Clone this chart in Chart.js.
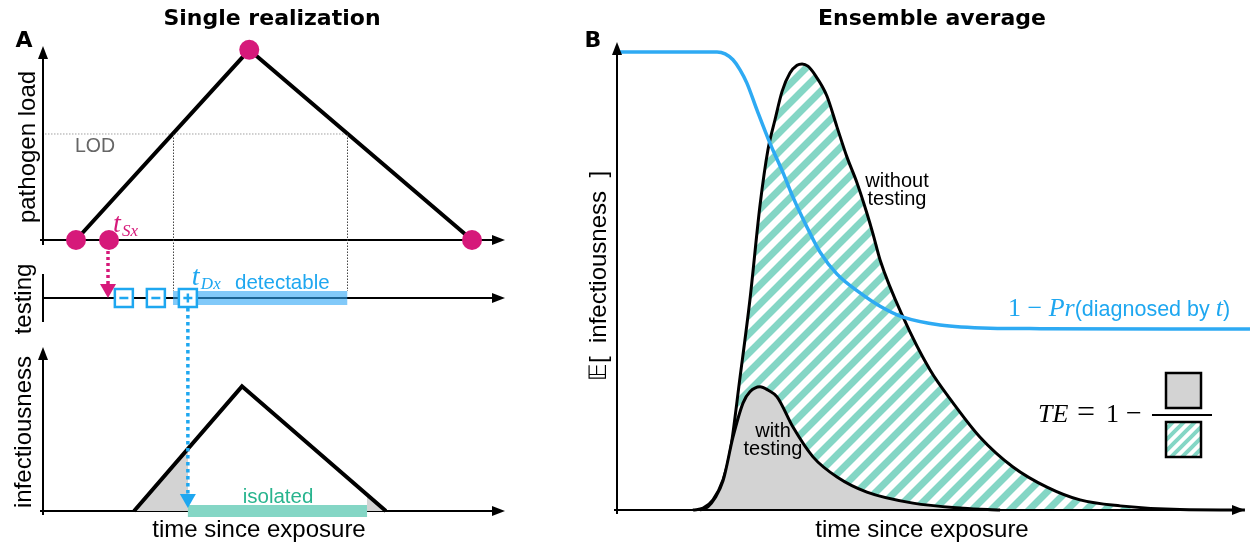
<!DOCTYPE html>
<html><head><meta charset="utf-8">
<script src="https://cdn.jsdelivr.net/npm/chart.js@4.4.0/dist/chart.umd.min.js"></script>
<style>
html,body{margin:0;padding:0;background:#fff;}
#wrap{position:relative;width:1250px;height:546px;overflow:hidden;background:#fff;}
#wrap canvas{position:absolute;left:0;top:0;}
</style></head><body>
<div id="wrap">
<canvas id="cA1" width="1250" height="546"></canvas>
<canvas id="cA2" width="1250" height="546"></canvas>
<canvas id="cA3" width="1250" height="546"></canvas>
<canvas id="cB" width="1250" height="546"></canvas>
</div>
<script>
// ---------------- DATA ----------------
// Panel A: single realization (time in days since exposure)
const loadTimes = [1.0, 6.25, 13.0];
const loadValues = [0, 10, 0];
const lodLevel = 5.6;
const symptomOnset = 2.0;
const testTimes = [2.45, 3.42, 4.39];
const testResults = ['-', '-', '+'];
const detectableWindow = [3.94, 9.22];
const infectTimes = [2.76, 6.03, 10.39];
const infectValues = [0, 7.6, 0];
const isolationWindow = [4.39, 9.82];

// Panel B: ensemble average
const noTestTimes = [3.00,3.40,3.79,4.19,4.46,4.86,5.25,5.65,5.96,6.24,6.52,6.83,7.11,7.31,7.54,7.82,8.29,8.69,9.08,9.48,9.87,10.11,10.39,11.30,12.36,13.27,14.34,15.64,16.98,18.29,19.87,22.24,24.80];
const noTestValues = [0,0.004,0.022,0.066,0.124,0.290,0.459,0.666,0.786,0.852,0.914,0.954,0.971,0.974,0.969,0.950,0.904,0.836,0.771,0.714,0.648,0.603,0.546,0.421,0.306,0.234,0.159,0.094,0.050,0.022,0.009,0.001,0];
const testTimesB = [3.28,3.59,3.87,4.19,4.58,4.98,5.25,5.65,5.96,6.32,6.95,7.74,8.69,9.87,11.69,13.67,15.13];
const testValuesB = [0,0.007,0.026,0.064,0.159,0.234,0.258,0.269,0.262,0.247,0.181,0.116,0.072,0.039,0.015,0.004,0];
const undiagTimes = [0,2.49,3.95,4.27,4.58,4.86,5.13,5.53,6.04,6.56,6.95,7.50,8.02,8.69,9.60,10.39,11.30,12.76,14.73,16.71,25];
const undiagValues = [1,1,1,0.996,0.983,0.961,0.932,0.873,0.801,0.736,0.683,0.618,0.563,0.515,0.474,0.445,0.421,0.404,0.397,0.396,0.395];

// ---------------- STYLE ----------------
const PINK = '#d6197a';
const BLUE = '#1ea7f0';
const TEAL = '#84d6c5';
const GREY = '#d3d3d3';
const GREEN_TXT = '#28b48e';
const SANS = '"Liberation Sans", Arial, Helvetica, sans-serif';
const SERIF = '"Liberation Serif", "Times New Roman", serif';
const BOLD = '"DejaVu Sans", sans-serif';

const pts = (xs, ys) => xs.map((x, i) => ({x, y: ys[i]}));

function baseOptions(pad, xmin, xmax, ymin, ymax) {
  return {
    responsive: false, animation: false, devicePixelRatio: 1, events: [],
    layout: {padding: pad},
    plugins: {legend: {display: false}, tooltip: {enabled: false}},
    scales: {
      x: {type: 'linear', min: xmin, max: xmax, display: false},
      y: {type: 'linear', min: ymin, max: ymax, display: false}
    },
    elements: {point: {radius: 0}, line: {borderJoinStyle: 'miter'}}
  };
}

function seg(ctx, x1, y1, x2, y2) { ctx.beginPath(); ctx.moveTo(x1, y1); ctx.lineTo(x2, y2); ctx.stroke(); }
function head(ctx, x, y, dir, len, half, color) {
  ctx.save(); ctx.fillStyle = color; ctx.beginPath();
  if (dir === 'up') { ctx.moveTo(x, y); ctx.lineTo(x - half, y + len); ctx.lineTo(x + half, y + len); }
  else if (dir === 'right') { ctx.moveTo(x, y); ctx.lineTo(x - len, y - half); ctx.lineTo(x - len, y + half); }
  else { ctx.moveTo(x, y); ctx.lineTo(x - half, y - len); ctx.lineTo(x + half, y - len); }
  ctx.closePath(); ctx.fill(); ctx.restore();
}
function arrowLine(ctx, x1, y1, x2, y2, dir) {
  ctx.save(); ctx.strokeStyle = '#000'; ctx.lineWidth = 2; ctx.setLineDash([]);
  if (dir === 'up') seg(ctx, x1, y1, x2, y2 + 8); else seg(ctx, x1, y1, x2 - 8, y2);
  ctx.restore();
  head(ctx, x2, y2, dir, 13, 5, '#000');
}
function dottedArrow(ctx, x, y1, y2, color, dash, headLen, headHalf) {
  ctx.save(); ctx.strokeStyle = color; ctx.lineWidth = 3.5; ctx.setLineDash(dash);
  seg(ctx, x, y1, x, y2 - headLen + 1);
  ctx.restore();
  head(ctx, x, y2, 'down', headLen, headHalf, color);
}
function text(ctx, t, x, y, font, color, align) {
  ctx.save(); ctx.font = font; ctx.fillStyle = color; ctx.textAlign = align || 'left';
  ctx.textBaseline = 'alphabetic'; ctx.fillText(t, x, y); ctx.restore();
}
function rotText(ctx, t, x, y, font, color) {
  ctx.save(); ctx.translate(x, y); ctx.rotate(-Math.PI / 2);
  ctx.font = font; ctx.fillStyle = color; ctx.textAlign = 'center'; ctx.textBaseline = 'alphabetic';
  ctx.fillText(t, 0, 0); ctx.restore();
}
function runs(ctx, x, y, parts, color) {
  ctx.save(); ctx.fillStyle = color; ctx.textAlign = 'left'; ctx.textBaseline = 'alphabetic';
  let cx = x;
  for (const [t, f] of parts) { ctx.font = f; ctx.fillText(t, cx, y); cx += ctx.measureText(t).width; }
  ctx.restore(); return cx;
}

// ---------------- A1: pathogen load ----------------
const chartA1 = new Chart(document.getElementById('cA1'), {
  type: 'line',
  data: {datasets: [
    {data: [{x: symptomOnset, y: 0}], showLine: false, pointRadius: 10, pointBackgroundColor: PINK, pointBorderWidth: 0, clip: false},
    {data: pts(loadTimes, loadValues), borderColor: '#000', borderWidth: 4, pointRadius: 10,
     pointBackgroundColor: PINK, pointBorderWidth: 0, clip: false, tension: 0}
  ]},
  options: baseOptions({left: 43, right: 745, top: 46, bottom: 306}, 0, 14, 0, 10.2),
  plugins: [{
    id: 'a1',
    beforeDatasetsDraw(chart) {
      const ctx = chart.ctx, xs = chart.scales.x, ys = chart.scales.y, ca = chart.chartArea;
      const y0 = ys.getPixelForValue(0), x0 = xs.getPixelForValue(0);
      const yL = ys.getPixelForValue(lodLevel);
      ctx.save(); ctx.strokeStyle = '#a0a0a0'; ctx.lineWidth = 1; ctx.setLineDash([1.5, 1.5]);
      seg(ctx, x0 + 2, yL + 0.5, xs.getPixelForValue(detectableWindow[1]), yL + 0.5);
      ctx.restore();
      arrowLine(ctx, x0, y0 + 5, x0, ca.top, 'up');
      arrowLine(ctx, x0 - 3, y0, ca.right, y0, 'right');
    },
    afterDraw(chart) {
      const ctx = chart.ctx, xs = chart.scales.x;
      text(ctx, 'Single realization', 272, 25, `bold 22px ${BOLD}`, '#000', 'center');
      text(ctx, 'A', 24, 47, `bold 22px ${BOLD}`, '#000', 'center');
      rotText(ctx, 'pathogen load', 35, 147, `24px ${SANS}`, '#000');
      text(ctx, 'LOD', 75, 152, `19.5px ${SANS}`, '#666');
      const xs0 = xs.getPixelForValue(symptomOnset);
      runs(ctx, xs0 + 4, 232, [['t', `italic 28px ${SERIF}`]], PINK);
      runs(ctx, xs0 + 13, 236, [['Sx', `italic 17px ${SERIF}`]], PINK);
    }
  }]
});

// ---------------- A2: testing ----------------
const chartA2 = new Chart(document.getElementById('cA2'), {
  type: 'line',
  data: {datasets: [
    {data: testTimes.map(t => ({x: t, y: 0})), showLine: false, pointStyle: 'rect', pointRadius: 12.73,
     pointBackgroundColor: '#fff', pointBorderColor: BLUE, pointBorderWidth: 2.5, clip: false},
    {data: detectableWindow.map(t => ({x: t, y: 0})), borderColor: 'rgba(45,165,245,0.6)', borderWidth: 14,
     borderCapStyle: 'butt', pointRadius: 0, clip: false}
  ]},
  options: baseOptions({left: 43, right: 745, top: 274, bottom: 224}, 0, 14, -1, 1),
  plugins: [{
    id: 'a2',
    beforeDatasetsDraw(chart) {
      const ctx = chart.ctx, xs = chart.scales.x, ys = chart.scales.y, ca = chart.chartArea;
      const y0 = ys.getPixelForValue(0), x0 = xs.getPixelForValue(0);
      const yL = chartA1.scales.y.getPixelForValue(lodLevel);
      ctx.save(); ctx.strokeStyle = '#444'; ctx.lineWidth = 1; ctx.setLineDash([1.5, 1.5]);
      for (const t of detectableWindow) {
        const x = Math.round(xs.getPixelForValue(t)) + 0.5;
        seg(ctx, x, yL + 1, x, y0 - 7);
      }
      ctx.restore();
      ctx.save(); ctx.strokeStyle = '#000'; ctx.lineWidth = 2; seg(ctx, x0, ca.top, x0, ca.bottom); ctx.restore();
      arrowLine(ctx, x0, y0, ca.right, y0, 'right');
    },
    afterDraw(chart) {
      const ctx = chart.ctx, xs = chart.scales.x, ys = chart.scales.y;
      const y0 = ys.getPixelForValue(0);
      const xS = xs.getPixelForValue(symptomOnset) - 1;
      dottedArrow(ctx, xS, chartA1.scales.y.getPixelForValue(0) + 11, y0, PINK, [3, 3], 14, 8);
      const meta = chart.getDatasetMeta(0);
      ctx.save(); ctx.strokeStyle = BLUE; ctx.lineWidth = 2.5;
      meta.data.forEach((p, i) => {
        seg(ctx, p.x - 4.5, p.y, p.x + 4.5, p.y);
        if (testResults[i] === '+') seg(ctx, p.x, p.y - 4.5, p.x, p.y + 4.5);
      });
      ctx.restore();
      rotText(ctx, 'testing', 31, 299, `24px ${SANS}`, '#000');
      const xD = xs.getPixelForValue(testTimes[2]);
      runs(ctx, xD + 4, 285, [['t', `italic 28px ${SERIF}`]], BLUE);
      runs(ctx, xD + 13, 289, [['Dx', `italic 17px ${SERIF}`]], BLUE);
      text(ctx, 'detectable', 235, 289, `20.5px ${SANS}`, BLUE);
    }
  }]
});

// ---------------- A3: infectiousness ----------------
const chartA3 = new Chart(document.getElementById('cA3'), {
  type: 'line',
  data: {datasets: [
    {data: pts(infectTimes, infectValues), borderColor: '#000', borderWidth: 4, pointRadius: 0, fill: 'origin', clip: false,
     backgroundColor: (c) => {
       const chart = c.chart, ca = chart.chartArea;
       if (!ca) return GREY;
       const xs = chart.scales.x;
       const w = ca.right - ca.left;
       const f0 = (xs.getPixelForValue(isolationWindow[0]) - ca.left) / w;
       const f1 = (xs.getPixelForValue(isolationWindow[1]) - ca.left) / w;
       const g = chart.ctx.createLinearGradient(ca.left, 0, ca.right, 0);
       g.addColorStop(0, GREY); g.addColorStop(f0, GREY);
       g.addColorStop(f0, 'rgba(255,255,255,0)'); g.addColorStop(f1, 'rgba(255,255,255,0)');
       g.addColorStop(f1, GREY); g.addColorStop(1, GREY);
       return g;
     }},
    {data: isolationWindow.map(t => ({x: t, y: 0})), borderColor: TEAL, borderWidth: 12, borderCapStyle: 'butt', pointRadius: 0, clip: false}
  ]},
  options: baseOptions({left: 43, right: 745, top: 347, bottom: 35}, 0, 14, 0, 10),
  plugins: [{
    id: 'a3',
    beforeDatasetsDraw(chart) {
      const ctx = chart.ctx, xs = chart.scales.x, ys = chart.scales.y, ca = chart.chartArea;
      const y0 = ys.getPixelForValue(0), x0 = xs.getPixelForValue(0);
      arrowLine(ctx, x0, y0 + 4, x0, ca.top, 'up');
      arrowLine(ctx, x0 - 3, y0, ca.right, y0, 'right');
    },
    afterDraw(chart) {
      const ctx = chart.ctx, xs = chart.scales.x, ys = chart.scales.y;
      const xD = xs.getPixelForValue(testTimes[2]);
      dottedArrow(ctx, xD, chartA2.scales.y.getPixelForValue(0) + 10, ys.getPixelForValue(0) - 3, BLUE, [3.5, 3.5], 14, 8);
      rotText(ctx, 'infectiousness', 31, 432, `24px ${SANS}`, '#000');
      text(ctx, 'isolated', 278, 503, `20.5px ${SANS}`, GREEN_TXT, 'center');
      text(ctx, 'time since exposure', 259, 537, `24px ${SANS}`, '#000', 'center');
    }
  }]
});

// ---------------- B: ensemble average ----------------
const cB = document.getElementById('cB');
function makeHatch(s, w) {
  const c = document.createElement('canvas'); c.width = s; c.height = s;
  const g = c.getContext('2d'); g.strokeStyle = TEAL; g.lineWidth = w;
  g.beginPath();
  g.moveTo(0, s); g.lineTo(s, 0);
  g.moveTo(-s / 2, s / 2); g.lineTo(s / 2, -s / 2);
  g.moveTo(s / 2, s * 1.5); g.lineTo(s * 1.5, s / 2);
  g.stroke();
  return cB.getContext('2d').createPattern(c, 'repeat');
}
const hatchBig = makeHatch(19, 7);
const hatchSmall = makeHatch(11, 4);

const chartB = new Chart(cB, {
  type: 'line',
  data: {datasets: [
    {data: pts(undiagTimes, undiagValues), borderColor: '#2eaaf3', borderWidth: 3.5, pointRadius: 0,
     cubicInterpolationMode: 'monotone', clip: false},
    {data: pts(testTimesB, testValuesB), borderColor: '#000', borderWidth: 3, pointRadius: 0,
     cubicInterpolationMode: 'monotone', fill: 'origin', backgroundColor: GREY, clip: false},
    {data: pts(noTestTimes, noTestValues), borderColor: '#000', borderWidth: 3, pointRadius: 0,
     cubicInterpolationMode: 'monotone', fill: 'origin', backgroundColor: hatchBig, clip: false}
  ]},
  options: baseOptions({left: 617, right: 0, top: 42, bottom: 36}, 0, 25, 0, 1.0218),
  plugins: [{
    id: 'b',
    afterDatasetsDraw(chart) {
      const ctx = chart.ctx, xs = chart.scales.x, ys = chart.scales.y, ca = chart.chartArea;
      const y0 = ys.getPixelForValue(0), x0 = xs.getPixelForValue(0);
      arrowLine(ctx, x0, y0 + 4, x0, ca.top, 'up');
      arrowLine(ctx, x0 - 3, y0, ca.right - 5, y0, 'right');
    },
    afterDraw(chart) {
      const ctx = chart.ctx;
      text(ctx, 'Ensemble average', 932, 25, `bold 22px ${BOLD}`, '#000', 'center');
      text(ctx, 'B', 593, 47, `bold 22px ${BOLD}`, '#000', 'center');
      rotText(ctx, '\u{1D53C}[  infectiousness  ]', 606, 276, `24px ${SANS}`, '#000');
      text(ctx, 'time since exposure', 922, 537, `24px ${SANS}`, '#000', 'center');
      text(ctx, 'without', 897, 187, `20px ${SANS}`, '#000', 'center');
      text(ctx, 'testing', 897, 205, `20px ${SANS}`, '#000', 'center');
      text(ctx, 'with', 773, 437, `20px ${SANS}`, '#000', 'center');
      text(ctx, 'testing', 773, 455, `20px ${SANS}`, '#000', 'center');
      runs(ctx, 1008, 316, [
        ['1 \u2212 ', `26px ${SERIF}`], ['Pr', `italic 26px ${SERIF}`],
        ['(diagnosed by ', `21.5px ${SANS}`], ['t', `italic 26px ${SERIF}`], [')', `21.5px ${SANS}`]
      ], BLUE);
      text(ctx, 'TE', 1038, 422, `italic 26px ${SERIF}`, '#000');
      text(ctx, '=', 1077, 422, `32px ${SERIF}`, '#000');
      text(ctx, '1', 1106, 422, `26px ${SERIF}`, '#000');
      text(ctx, '\u2212', 1126, 422, `28px ${SERIF}`, '#000');
      ctx.save(); ctx.strokeStyle = '#000'; ctx.lineWidth = 2; seg(ctx, 1152, 415, 1212, 415);
      ctx.fillStyle = GREY; ctx.fillRect(1166, 373, 35, 35);
      ctx.lineWidth = 2.5; ctx.strokeRect(1166, 373, 35, 35);
      ctx.fillStyle = '#fff'; ctx.fillRect(1166, 422, 35, 35);
      ctx.fillStyle = hatchSmall; ctx.fillRect(1166, 422, 35, 35);
      ctx.strokeRect(1166, 422, 35, 35);
      ctx.restore();
    }
  }]
});
</script>
</body></html>
